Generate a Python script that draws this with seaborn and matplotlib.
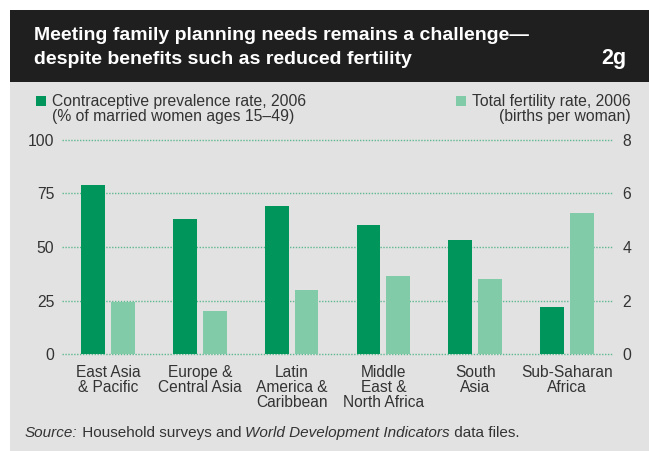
import matplotlib
matplotlib.use("Agg")
import matplotlib.pyplot as plt
from matplotlib import font_manager as fm
from matplotlib.patches import Rectangle
import pandas as pd
import seaborn as sns

# --- data -------------------------------------------------------------
regions = [
    "East Asia\n& Pacific",
    "Europe &\nCentral Asia",
    "Latin\nAmerica &\nCaribbean",
    "Middle\nEast &\nNorth Africa",
    "South\nAsia",
    "Sub-Saharan\nAfrica",
]
contraceptive_rate = [79, 63, 69, 60, 53, 22]        # % of married women 15-49
fertility_rate = [1.95, 1.6, 2.4, 2.9, 2.8, 5.25]    # births per woman

cpr_label = "Contraceptive prevalence rate, 2006"
tfr_label = "Total fertility rate, 2006"
left_ticks = [0, 25, 50, 75, 100]
right_ticks = [0, 2, 4, 6, 8]

# --- styling ----------------------------------------------------------
DARK_GREEN = "#00955A"
LIGHT_GREEN = "#82CBA8"
PANEL = "#E2E2E2"
HEADER = "#1F1F1F"
TEXT = "#333333"
GRID = "#5FB990"

sns.set_theme(style="white")
available = {f.name for f in fm.fontManager.ttflist}


def pick(*names):
    for n in names:
        if n in available:
            return n
    return "DejaVu Sans"


title_font = pick("Liberation Sans Narrow", "Liberation Sans", "Roboto")
body_font = pick("Liberation Sans", "Roboto", "DejaVu Sans")
plt.rcParams["font.family"] = [body_font, "DejaVu Sans"]

W, H = 649, 451
fig = plt.figure(figsize=(W / 100, H / 100), dpi=100, facecolor="white")


def fx(px):
    return px / W


def fy(py):
    return 1 - py / H


# panel background and dark header band (behind everything)
fig.patches.append(Rectangle((fx(10), 0), 1 - fx(10), fy(82), transform=fig.transFigure,
                             facecolor=PANEL, edgecolor="none", zorder=-2))
fig.patches.append(Rectangle((fx(10), fy(82)), 1 - fx(10), fy(10) - fy(82),
                             transform=fig.transFigure, facecolor=HEADER,
                             edgecolor="none", zorder=-2))

fig.text(fx(34), fy(39.5), "Meeting family planning needs remains a challenge\u2014",
         family=title_font, weight="bold", size=14, color="white", va="baseline")
fig.text(fx(34), fy(63.5), "despite benefits such as reduced fertility",
         family=title_font, weight="bold", size=14, color="white", va="baseline")
fig.text(fx(626), fy(63.5), "2g", family=title_font, weight="bold", size=15.5,
         color="white", va="baseline", ha="right")

# --- axes -------------------------------------------------------------
ax = fig.add_axes([fx(62), fy(354.3), fx(613) - fx(62), fy(139.5) - fy(354.3)])
ax.set_facecolor("none")
ax2 = ax.twinx()

hue_order = [cpr_label, tfr_label]
palette = {cpr_label: DARK_GREEN, tfr_label: LIGHT_GREEN}

df_cpr = pd.DataFrame({"region": regions, "series": cpr_label, "value": contraceptive_rate})
df_tfr = pd.DataFrame({"region": regions, "series": tfr_label, "value": fertility_rate})

bar_kw = dict(x="region", y="value", hue="series", hue_order=hue_order,
              palette=palette, order=regions, dodge=True, width=0.65, gap=0.2,
              saturation=1, legend=False, linewidth=0, edgecolor="none", zorder=3)
sns.barplot(data=df_cpr, ax=ax, **bar_kw)
sns.barplot(data=df_tfr, ax=ax2, **bar_kw)

ax.set_xlim(-0.5, len(regions) - 0.5)
ax.set_ylim(0, 100)
ax2.set_ylim(0, 8)
ax.set_yticks(left_ticks)
ax2.set_yticks(right_ticks)
for a in (ax, ax2):
    a.set_xlabel("")
    a.set_ylabel("")
    for s in a.spines.values():
        s.set_visible(False)
    a.grid(False)

ax.set_axisbelow(True)
ax.yaxis.grid(True, color=GRID, linewidth=1.0, linestyle=(0, (1, 1.1)))
# keep the baseline gridline fully visible at the bottom edge
for tick in ax.yaxis.get_major_ticks():
    tick.gridline.set_clip_on(False)

ax.tick_params(axis="y", length=0, pad=5.5, labelsize=11.3, labelcolor=TEXT)
ax2.tick_params(axis="y", length=0, pad=7, labelsize=11.3, labelcolor=TEXT)
ax.tick_params(axis="x", length=0, pad=7.5, labelsize=11.2, labelcolor=TEXT)
ax.set_xticks(range(len(regions)))
ax.set_xticklabels(regions, linespacing=1.0, multialignment="center")
ax2.tick_params(axis="x", length=0)

# --- legend keys ------------------------------------------------------
fig.patches.append(Rectangle((fx(35.5), fy(106)), fx(10.5), fy(95.5) - fy(106),
                             transform=fig.transFigure, facecolor=DARK_GREEN,
                             edgecolor="none"))
fig.patches.append(Rectangle((fx(455.5), fy(106)), fx(10.5), fy(95.5) - fy(106),
                             transform=fig.transFigure, facecolor=LIGHT_GREEN,
                             edgecolor="none"))
fig.text(fx(52), fy(106), cpr_label, size=11.3, color=TEXT, va="baseline")
fig.text(fx(52), fy(121), "(% of married women ages 15\u201349)", size=11.3,
         color=TEXT, va="baseline")
fig.text(fx(631), fy(106), tfr_label, size=11.3, color=TEXT, va="baseline", ha="right")
fig.text(fx(631), fy(121), "(births per woman)", size=11.3, color=TEXT,
         va="baseline", ha="right")

# --- source note with italic parts ------------------------------------
pieces = [("Source:", "italic"), (" Household surveys and ", "normal"),
          ("World Development Indicators", "italic"), (" data files.", "normal")]
renderer = fig.canvas.get_renderer()
x_px = 25
for txt, st in pieces:
    t = fig.text(fx(x_px), fy(437), txt, style=st, size=11, color=TEXT,
                 va="baseline", ha="left")
    x_px += t.get_window_extent(renderer=renderer).width

fig.savefig("out.png", dpi=100, facecolor="white")
